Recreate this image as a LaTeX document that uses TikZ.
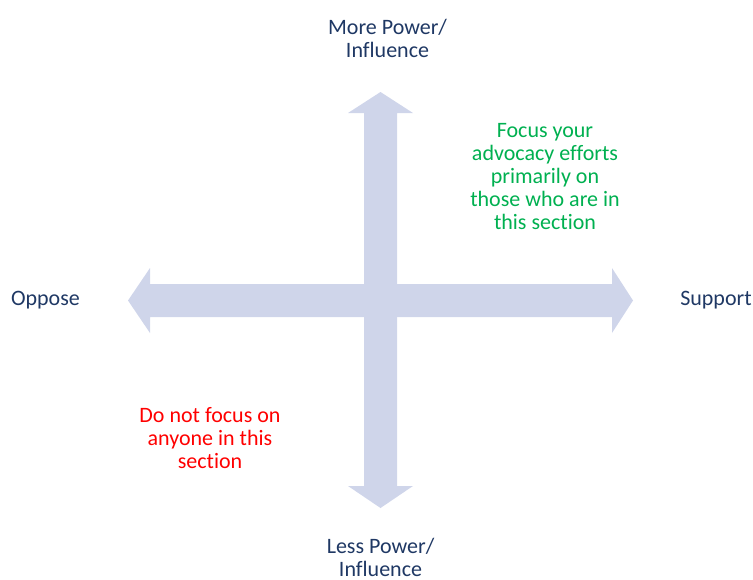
\documentclass[tikz,border=0pt]{standalone}
\usepackage{fontspec}
\setmainfont{Carlito}[Ligatures=NoCommon]
\definecolor{arrowfill}{RGB}{207,213,234}
\definecolor{navytext}{RGB}{31,56,100}
\definecolor{greentext}{RGB}{0,176,80}
\definecolor{redtext}{RGB}{255,0,0}
\begin{document}
\begin{tikzpicture}[x=1pt,y=-1pt,
  axisarrow/.style={fill=arrowfill,draw=none},
  lbl/.style={font=\fontsize{22}{23.2}\selectfont,inner sep=0pt,align=center,anchor=base},
  axislbl/.style={lbl,text=navytext},
  goodlbl/.style={lbl,text=greentext},
  badlbl/.style={lbl,text=redtext}]
\useasboundingbox (0,0) rectangle (753,579);
% horizontal double arrow
\fill[axisarrow] (128,300.5) -- (150,268) -- (150,284) -- (612,284) -- (612,268) -- (633,300.5)
  -- (612,333) -- (612,317) -- (150,317) -- (150,333) -- cycle;
% vertical double arrow
\fill[axisarrow] (380.5,92) -- (413,113) -- (397,113) -- (397,486) -- (413,486) -- (380.5,508)
  -- (348,486) -- (364,486) -- (364,113) -- (348,113) -- cycle;
% multi-line nodes: base anchor = baseline of the last line
\node[axislbl] (more) at (387.5,57.3) {More Power/\\Influence};
\node[axislbl] (less) at (380.5,576.5) {Less Power/\\Influence};
\node[axislbl] (oppose) at (45.5,305) {Oppose};
\node[axislbl] (support) at (716,305) {Support};
\node[goodlbl] (focus) at (545,229.8) {Focus your\\advocacy efforts\\primarily on\\those who are in\\this section};
\node[badlbl] (nofocus) at (210,468.4) {Do not focus on\\anyone in this\\section};
\end{tikzpicture}
\end{document}
